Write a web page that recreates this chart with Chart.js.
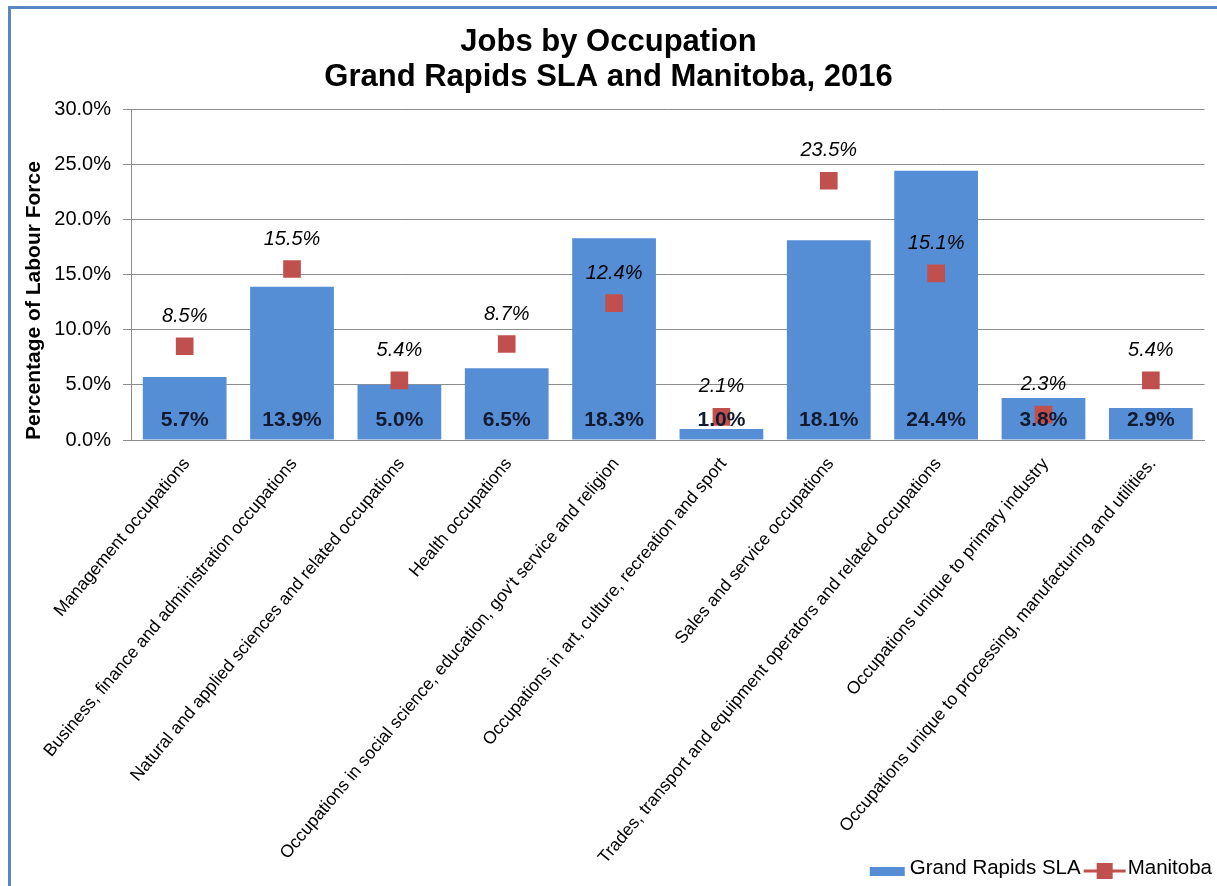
<!DOCTYPE html>
<html>
<head>
<meta charset="utf-8">
<title>Jobs by Occupation</title>
<script src="https://cdn.jsdelivr.net/npm/chart.js@4.4.1/dist/chart.umd.min.js"></script>
<style>
  html, body { margin: 0; padding: 0; background: #fff; }
  #wrap { position: relative; width: 1217px; height: 886px; overflow: hidden; }
  #frame {
    position: absolute; left: 8px; top: 6px; width: 1300px; height: 1000px;
    border-top: 3px solid #5a86c4; border-left: 3px solid #5a86c4;
    pointer-events: none;
  }
  canvas { position: absolute; left: 0; top: 0; }
</style>
</head>
<body>
<div id="wrap">
  <canvas id="chart" width="1217" height="886"></canvas>
  <div id="frame"></div>
</div>
<script>
// ── Data ──────────────────────────────────────────────────────────────────────
const categories = [
  "Management occupations",
  "Business, finance and administration occupations",
  "Natural and applied sciences and related occupations",
  "Health occupations",
  "Occupations in social science, education, gov't service and religion",
  "Occupations in art, culture, recreation and sport",
  "Sales and service occupations",
  "Trades, transport and equipment operators and related occupations",
  "Occupations unique to primary industry",
  "Occupations unique to processing, manufacturing and utilities.",
];
const grandRapids = [5.7, 13.9, 5.0, 6.5, 18.3, 1.0, 18.1, 24.4, 3.8, 2.9];
const manitoba    = [8.5, 15.5, 5.4, 8.7, 12.4, 2.1, 23.5, 15.1, 2.3, 5.4];

const FONT     = "'Liberation Sans', Arial, sans-serif";
const BAR_BLUE = "#558ed5";
const MB_RED   = "#c0504d";
const GRID     = "#8c8c8c";

// ── Value labels (bars at base, Manitoba above marker) ───────────────────────
const valueLabels = {
  id: "valueLabels",
  afterDatasetsDraw(chart) {
    const ctx  = chart.ctx;
    const base = chart.scales.y.getPixelForValue(0);
    ctx.save();
    ctx.textAlign = "center";
    ctx.textBaseline = "middle";

    ctx.fillStyle = "#000";
    ctx.font = `italic 20px ${FONT}`;
    chart.getDatasetMeta(0).data.forEach((pt, i) => {
      ctx.fillText(manitoba[i].toFixed(1) + "%", pt.x, pt.y - 30);
    });

    ctx.fillStyle = "#111a2e";
    ctx.font = `bold 21px ${FONT}`;
    chart.getDatasetMeta(1).data.forEach((bar, i) => {
      ctx.fillText(grandRapids[i].toFixed(1) + "%", bar.x, base - 20);
    });
    ctx.restore();
  },
};

// ── Legend (bottom right, Excel style) ────────────────────────────────────────
const cornerLegend = {
  id: "cornerLegend",
  afterDraw(chart) {
    const ctx = chart.ctx;
    const right = chart.width - 5;
    const baseY = 874;
    const midY  = 871;
    ctx.save();
    ctx.font = `20.5px ${FONT}`;
    ctx.fillStyle = "#000";
    ctx.textBaseline = "alphabetic";
    ctx.textAlign = "left";

    const wMb = ctx.measureText("Manitoba").width;
    const xMb = right - wMb;
    ctx.fillText("Manitoba", xMb, baseY);

    // line + square marker
    const lx1 = xMb - 44, lx2 = xMb - 2;
    ctx.strokeStyle = MB_RED;
    ctx.lineWidth = 3;
    ctx.beginPath();
    ctx.moveTo(lx1, midY);
    ctx.lineTo(lx2, midY);
    ctx.stroke();
    ctx.fillStyle = MB_RED;
    const cx = (lx1 + lx2) / 2;
    ctx.fillRect(cx - 8, midY - 8, 16, 16);

    ctx.fillStyle = "#000";
    const wGr = ctx.measureText("Grand Rapids SLA").width;
    const xGr = lx1 - 3 - wGr;
    ctx.fillText("Grand Rapids SLA", xGr, baseY);

    ctx.fillStyle = BAR_BLUE;
    ctx.fillRect(xGr - 40, midY - 4, 35, 9);
    ctx.restore();
  },
};

// ── Chart ─────────────────────────────────────────────────────────────────────
new Chart(document.getElementById("chart"), {
  data: {
    labels: categories,
    datasets: [
      {
        type: "line",
        label: "Manitoba",
        data: manitoba,
        order: 0,
        showLine: false,
        pointStyle: "rect",
        pointRadius: 12.5,
        pointBorderWidth: 0,
        pointBackgroundColor: MB_RED,
        borderColor: MB_RED,
      },
      {
        type: "bar",
        label: "Grand Rapids SLA",
        data: grandRapids,
        order: 1,
        backgroundColor: BAR_BLUE,
        barPercentage: 0.78,
        categoryPercentage: 1.0,
      },
    ],
  },
  options: {
    responsive: false,
    animation: false,
    layout: { padding: { left: 10, right: 10, top: 0, bottom: 14 } },
    plugins: {
      legend: { display: false },
      tooltip: { enabled: false },
      title: {
        display: true,
        text: ["Jobs by Occupation", "Grand Rapids SLA and Manitoba, 2016"],
        color: "#000",
        font: { family: FONT, size: 31, weight: "bold", lineHeight: 1.13 },
        padding: { top: 25, bottom: 14 },
      },
    },
    scales: {
      x: {
        grid: { display: false },
        border: { display: true, color: GRID, width: 1 },
        ticks: {
          color: "#000",
          font: { family: FONT, size: 17.5 },
          minRotation: 50,
          maxRotation: 50,
          autoSkip: false,
          padding: 6,
          labelOffset: 2,
        },
        afterFit(scale) { scale.height = 432; },
      },
      y: {
        min: 0,
        max: 30,
        grid: { color: GRID, lineWidth: 1, drawTicks: true, tickLength: 8 },
        border: { display: true, color: GRID, width: 1 },
        ticks: {
          stepSize: 5,
          color: "#000",
          padding: 12,
          font: { family: FONT, size: 20 },
          callback: (v) => v.toFixed(1) + "%",
        },
        title: {
          display: true,
          text: "Percentage of Labour Force",
          align: "start",
          color: "#000",
          font: { family: FONT, size: 21, weight: "bold" },
          padding: { top: 12, bottom: 0 },
        },
        afterFit(scale) { scale.width = 121; },
      },
    },
  },
  plugins: [valueLabels, cornerLegend],
});
</script>
</body>
</html>
